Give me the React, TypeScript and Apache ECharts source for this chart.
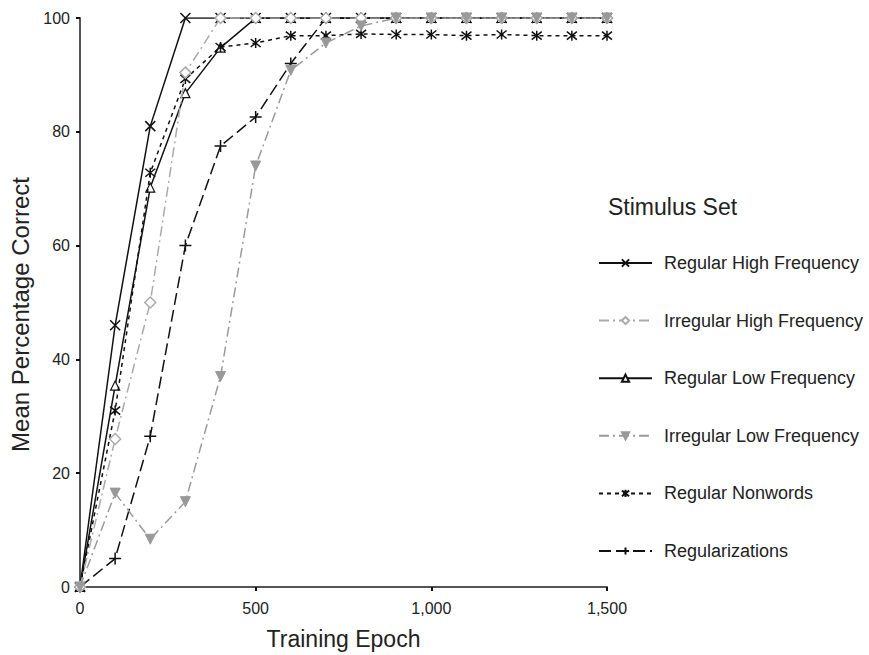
import React, { useEffect, useRef } from "react";
import * as echarts from "echarts";

const epochs = [0, 100, 200, 300, 400, 500, 600, 700, 800, 900, 1000, 1100, 1200, 1300, 1400, 1500];
const regularHigh = [0, 46, 81, 100, 100, 100, 100, 100, 100, 100, 100, 100, 100, 100, 100, 100];
const irregularHigh = [0, 26, 50, 90.4, 100, 100, 100, 100, 100, 100, 100, 100, 100, 100, 100, 100];
const regularLow = [0, 35.4, 70.2, 86.8, 94.8, 100, 100, 100, 100, 100, 100, 100, 100, 100, 100, 100];
const irregularLow = [0, 16.5, 8.4, 15, 37, 74, 90.8, 95.6, 98.6, 100, 100, 100, 100, 100, 100, 100];
const regularNonwords = [0, 31, 72.8, 89.3, 94.9, 95.6, 96.9, 96.9, 97.2, 97.1, 97.1, 96.9, 97.1, 96.9, 96.9, 96.9];
const regularizations = [0, 5, 26.5, 60, 77.5, 82.6, 92, 100, 100, 100, 100, 100, 100, 100, 100, 100];

const seriesNames = [
  "Regular High Frequency",
  "Irregular High Frequency",
  "Regular Low Frequency",
  "Irregular Low Frequency",
  "Regular Nonwords",
  "Regularizations",
];

const FONT = "'Liberation Sans', Arial, Helvetica, sans-serif";

export default function App() {
  const ref = useRef<HTMLDivElement>(null);
  useEffect(() => {
    if (!ref.current) return;
    const chart = echarts.init(ref.current, undefined, { renderer: "svg" });
    const pair = (arr: number[]) => epochs.map((e, i) => [e, arr[i]]);
    const crossPath = "path://M0,0L10,10M10,0L0,10";
    const plusPath = "path://M5,0L5,10M0,5L10,5";
    const starPath = "path://M0,1L10,9M10,1L0,9M5,0L5,10";
    const downTri = "path://M0,0L10,0L5,9Z";
    const option: any = {
      animation: false,
      backgroundColor: "#fff",
      textStyle: { fontFamily: FONT },
      title: {
        text: "Stimulus Set",
        left: 603,
        top: 190,
        textStyle: { fontFamily: FONT, fontSize: 23, fontWeight: "normal", color: "#222" },
      },
      legend: {
        orient: "vertical",
        left: 593,
        top: 249,
        itemWidth: 53,
        itemHeight: 9,
        itemGap: 39.6,
        textStyle: {
          fontFamily: FONT,
          fontSize: 18,
          lineHeight: 18,
          color: "#222",
          padding: [0, 0, 0, 7],
        },
        data: seriesNames,
      },
      grid: { left: 80, right: 262, top: 18, bottom: 67, containLabel: false },
      xAxis: {
        type: "value",
        min: 0,
        max: 1500,
        interval: 500,
        name: "Training Epoch",
        nameLocation: "middle",
        nameGap: 40,
        nameTextStyle: { fontFamily: FONT, fontSize: 23, color: "#222" },
        axisLine: { lineStyle: { color: "#555", width: 2 } },
        axisTick: { show: true, length: 4, lineStyle: { color: "#111", width: 2 } },
        axisLabel: {
          fontFamily: FONT,
          fontSize: 16,
          color: "#222",
          margin: 13,
          formatter: (v: number) => v.toLocaleString("en-US"),
        },
        splitLine: { show: false },
      },
      yAxis: {
        type: "value",
        min: 0,
        max: 100,
        interval: 20,
        name: "Mean Percentage Correct",
        nameLocation: "middle",
        nameGap: 47,
        nameTextStyle: { fontFamily: FONT, fontSize: 24, color: "#222", padding: [0, 24, 0, 0] },
        axisLine: { show: true, lineStyle: { color: "#555", width: 2 } },
        axisTick: { show: true, length: 4, lineStyle: { color: "#111", width: 2 } },
        axisLabel: { fontFamily: FONT, fontSize: 16, color: "#222", margin: 10 },
        splitLine: { show: false },
      },
      series: [
        {
          name: seriesNames[0],
          type: "line",
          data: pair(regularHigh),
          z: 2,
          symbol: crossPath,
          symbolSize: 10,
          lineStyle: { color: "#111", width: 1.5, type: "solid" },
          itemStyle: { color: "#111", borderColor: "#111", borderWidth: 1.5 },
        },
        {
          name: seriesNames[1],
          type: "line",
          data: pair(irregularHigh),
          z: 4,
          symbol: "diamond",
          symbolSize: 11,
          lineStyle: { color: "#aaa", width: 1.5, type: [10, 4, 2, 4] },
          itemStyle: { color: "#fff", borderColor: "#aaa", borderWidth: 1.5 },
        },
        {
          name: seriesNames[2],
          type: "line",
          data: pair(regularLow),
          z: 2,
          symbol: "triangle",
          symbolSize: 9,
          lineStyle: { color: "#111", width: 1.5, type: "solid" },
          itemStyle: { color: "#fff", borderColor: "#111", borderWidth: 1.2 },
        },
        {
          name: seriesNames[3],
          type: "line",
          data: pair(irregularLow),
          z: 5,
          symbol: downTri,
          symbolSize: 10,
          lineStyle: { color: "#9a9a9a", width: 1.5, type: [10, 4, 2, 4] },
          itemStyle: { color: "#999", borderColor: "#999", borderWidth: 1 },
        },
        {
          name: seriesNames[4],
          type: "line",
          data: pair(regularNonwords),
          z: 3,
          symbol: starPath,
          symbolSize: 10,
          lineStyle: { color: "#111", width: 1.5, type: [4, 4] },
          itemStyle: { color: "#111", borderColor: "#111", borderWidth: 1.5 },
        },
        {
          name: seriesNames[5],
          type: "line",
          data: pair(regularizations),
          z: 2,
          symbol: plusPath,
          symbolSize: 12,
          lineStyle: { color: "#111", width: 1.5, type: [12, 5] },
          itemStyle: { color: "#111", borderColor: "#111", borderWidth: 1.5 },
        },
      ],
    };
    chart.setOption(option);
    return () => chart.dispose();
  }, []);
  return (
    <div
      ref={ref}
      style={{ position: "absolute", left: 0, top: 0, width: 869, height: 655, background: "#fff" }}
    />
  );
}
